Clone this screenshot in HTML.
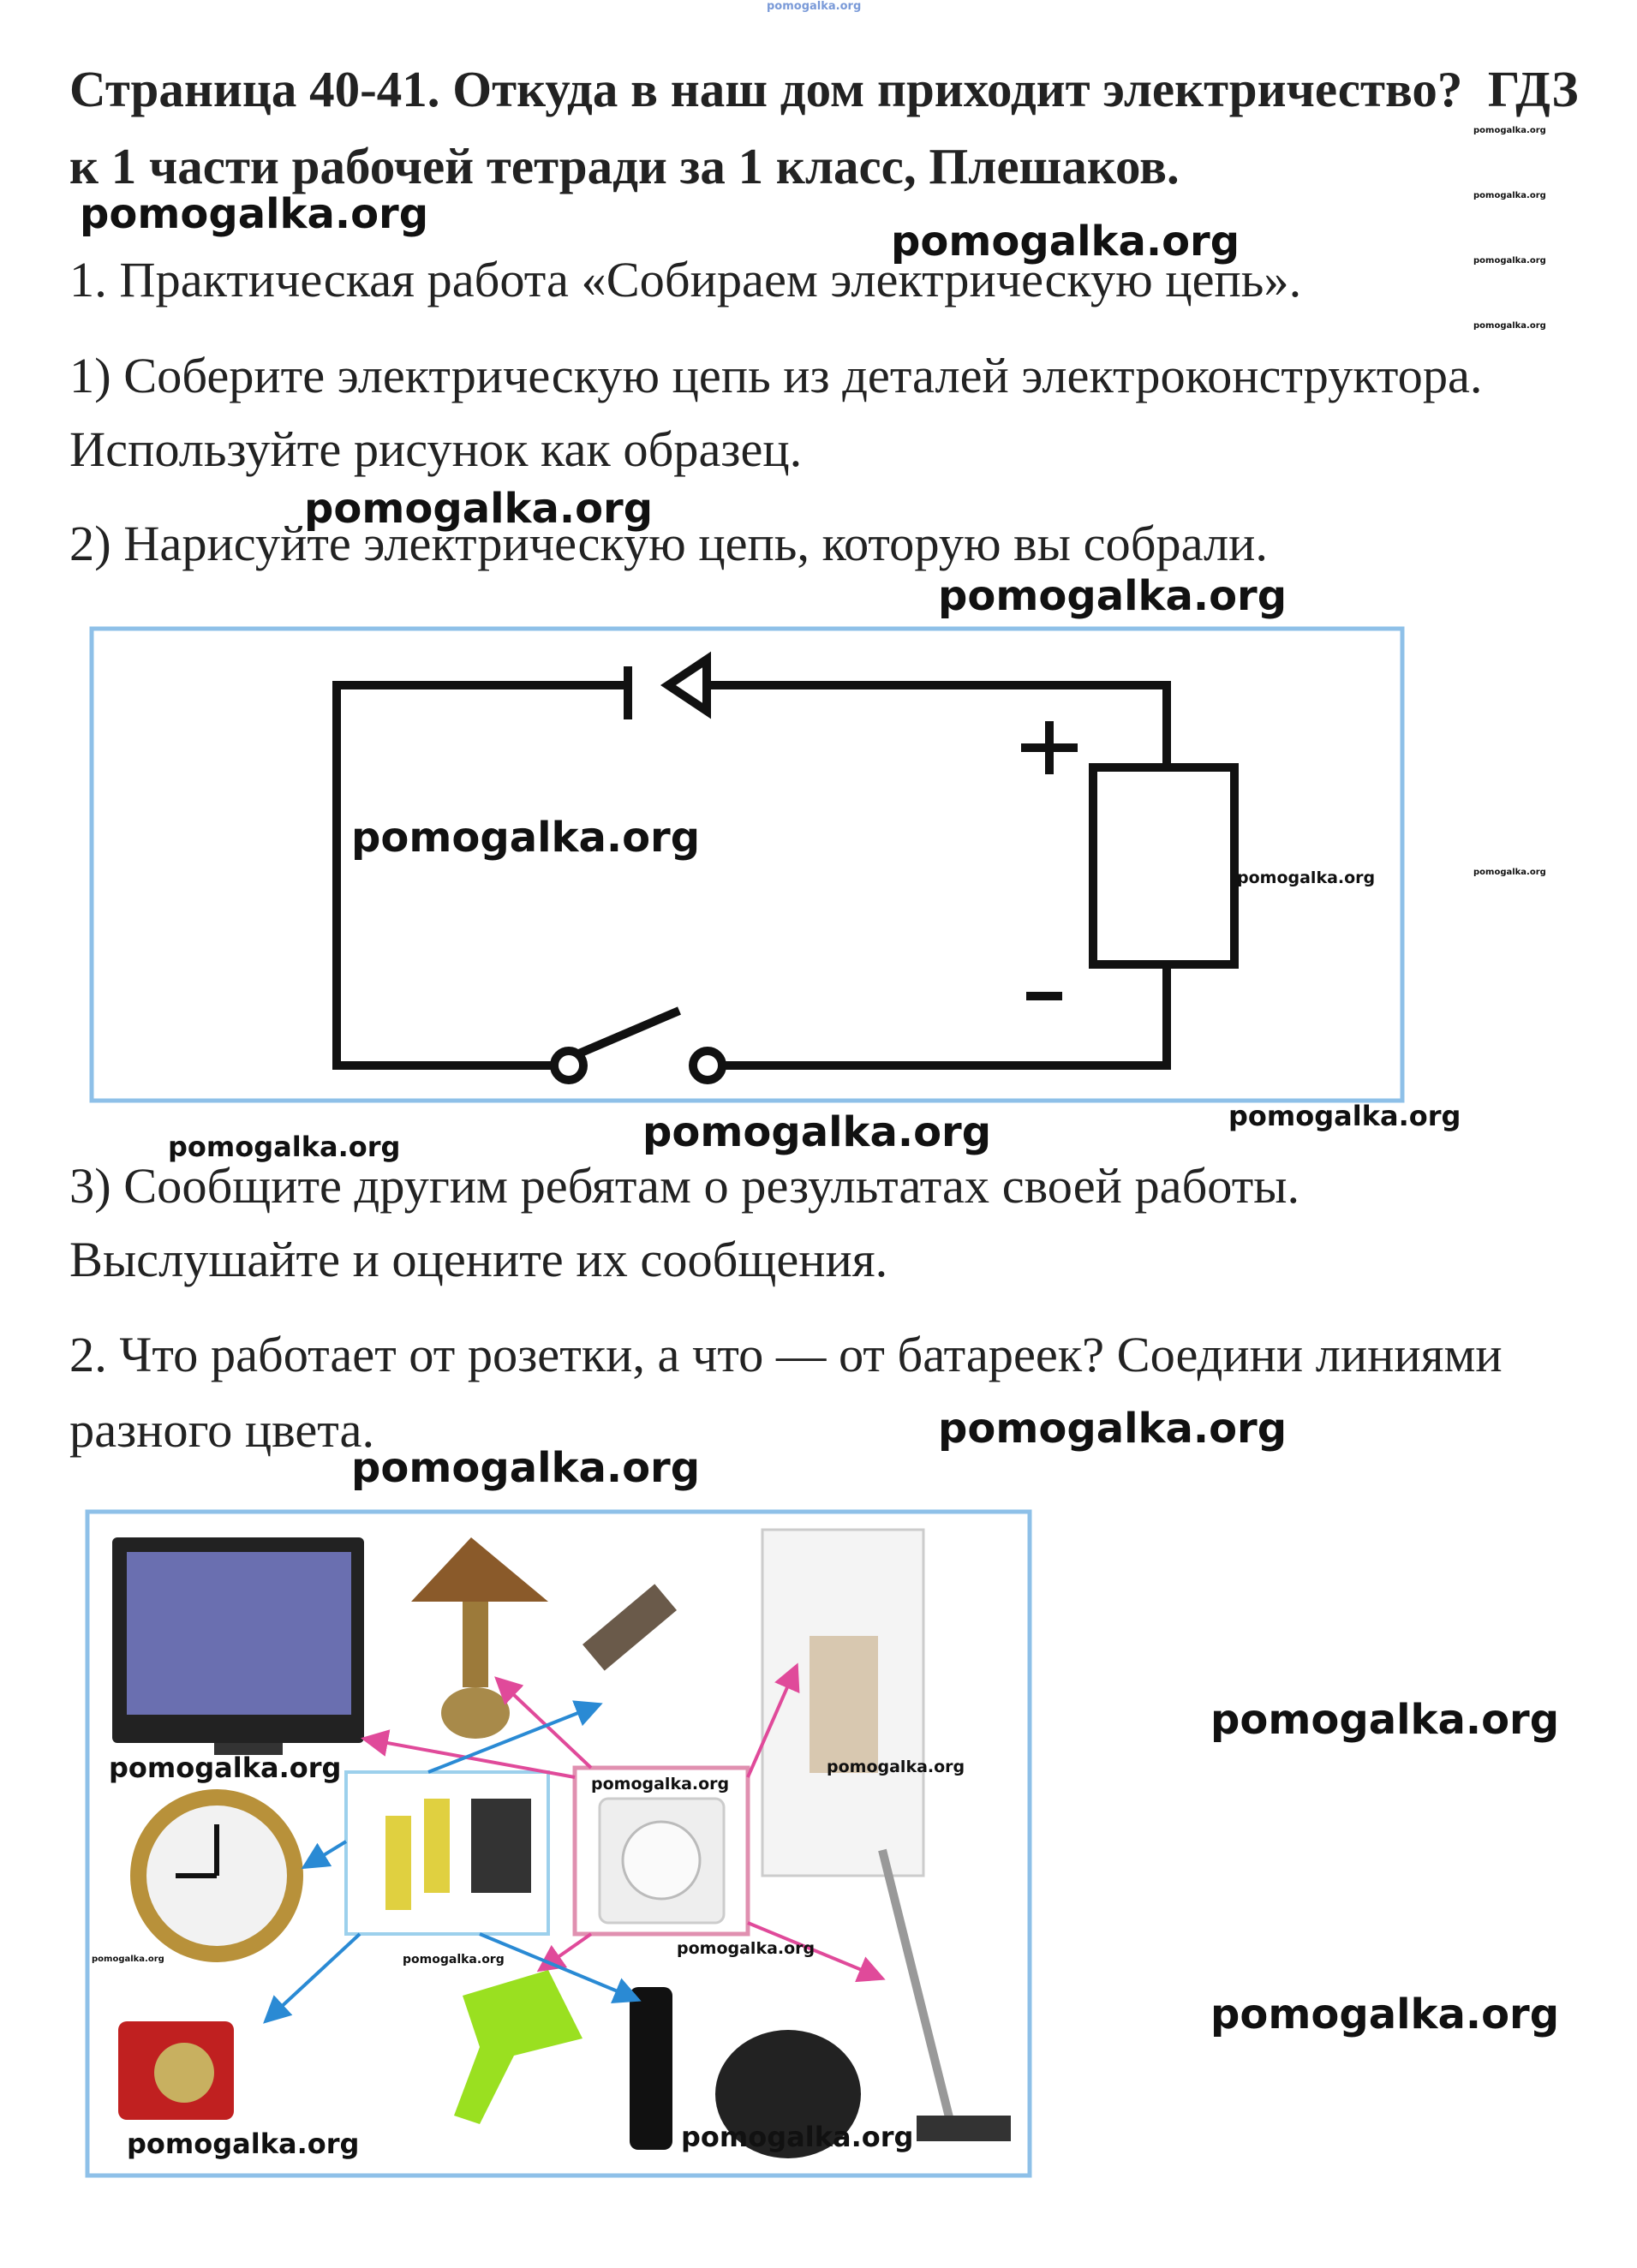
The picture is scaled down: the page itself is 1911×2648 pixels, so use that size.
<!DOCTYPE html>
<html><head><meta charset="utf-8">
<style>
html,body{margin:0;padding:0;background:#fff;}
body{width:1911px;height:2648px;position:relative;overflow:hidden;}
.t{position:absolute;white-space:nowrap;font-family:"Liberation Serif",serif;color:#222;}
.b{font-weight:bold;font-size:59px;}
.r{font-size:58.4px;}
.w{position:absolute;white-space:nowrap;font-family:"DejaVu Sans","Liberation Sans",sans-serif;font-weight:bold;color:#111;}
.wl{font-size:48px;}
.wm{font-size:32px;}
.ws{font-size:19px;}
.wt{font-size:10px;}
</style></head><body>
<div class="w" style="left:895px;top:0px;font-size:13px;color:#7a9ad8;">pomogalka.org</div>
<div class="t b" style="left:81px;top:70px;">Страница 40-41. Откуда в наш дом приходит электричество?&nbsp; ГДЗ</div>
<div class="t b" style="left:81px;top:160px;">к 1 части рабочей тетради за 1 класс, Плешаков.</div>
<div class="w wl" style="left:93px;top:222px;">pomogalka.org</div>
<div class="w wl" style="left:1040px;top:254px;">pomogalka.org</div>
<div class="w wt" style="left:1720px;top:147px;">pomogalka.org</div>
<div class="w wt" style="left:1720px;top:223px;">pomogalka.org</div>
<div class="w wt" style="left:1720px;top:299px;">pomogalka.org</div>
<div class="w wt" style="left:1720px;top:375px;">pomogalka.org</div>
<div class="w wt" style="left:1720px;top:1013px;">pomogalka.org</div>
<div class="t r" style="left:81px;top:293px;">1. Практическая работа «Собираем электрическую цепь».</div>
<div class="t r" style="left:81px;top:405px;">1) Соберите электрическую цепь из деталей электроконструктора.</div>
<div class="t r" style="left:81px;top:491px;">Используйте рисунок как образец.</div>
<div class="w wl" style="left:355px;top:566px;">pomogalka.org</div>
<div class="t r" style="left:81px;top:601px;">2) Нарисуйте электрическую цепь, которую вы собрали.</div>
<div class="w wl" style="left:1095px;top:668px;">pomogalka.org</div>

<svg style="position:absolute;left:0;top:0" width="1911" height="2648">
 <defs>
  <marker id="mp" markerWidth="8" markerHeight="8" refX="7" refY="4" orient="auto" markerUnits="strokeWidth"><path d="M0,0 L8,4 L0,8 z" fill="#e04a9a"/></marker>
  <marker id="mb" markerWidth="8" markerHeight="8" refX="7" refY="4" orient="auto" markerUnits="strokeWidth"><path d="M0,0 L8,4 L0,8 z" fill="#2a8ad4"/></marker>
 </defs>
 <rect x="107" y="734" width="1530" height="551" fill="none" stroke="#8ec0e8" stroke-width="5"/>
 <g stroke="#111" stroke-width="10" fill="none">
  <polyline points="733,800 393,800 393,1244 655,1244"/>
  <line x1="733" y1="778" x2="733" y2="840"/>
  <polygon points="780,800 825,770 825,830"/>
  <polyline points="825,800 1362,800 1362,896"/>
  <rect x="1276" y="896" width="165" height="230"/>
  <polyline points="1362,1126 1362,1244 843,1244"/>
  <circle cx="664" cy="1244" r="17" fill="#fff"/>
  <circle cx="826" cy="1244" r="17" fill="#fff"/>
  <line x1="676" y1="1230" x2="793" y2="1180"/>
  <line x1="1192" y1="873" x2="1258" y2="873"/>
  <line x1="1225" y1="842" x2="1225" y2="904"/>
  <line x1="1198" y1="1163" x2="1240" y2="1163"/>
 </g>
 <rect x="102" y="1765" width="1100" height="775" fill="#fff" stroke="#8ec0e8" stroke-width="5"/>
 <rect x="131" y="1795" width="294" height="240" fill="#222" rx="6"/>
 <rect x="148" y="1812" width="262" height="190" fill="#6a6fb0"/>
 <rect x="250" y="2035" width="80" height="14" fill="#333"/>
 <polygon points="480,1870 550,1795 640,1870" fill="#8a5a2a"/>
 <rect x="540" y="1870" width="30" height="100" fill="#9c7a3a"/>
 <ellipse cx="555" cy="2000" rx="40" ry="30" fill="#a88a4a"/>
 <rect x="680" y="1880" width="110" height="40" fill="#6a5a4a" transform="rotate(-40 735 1900)"/>
 <rect x="890" y="1786" width="188" height="404" fill="#f4f4f4" stroke="#ccc" stroke-width="3"/>
 <rect x="945" y="1910" width="80" height="160" fill="#d8c8b0"/>
 <circle cx="253" cy="2190" r="101" fill="#b8913a"/>
 <circle cx="253" cy="2190" r="82" fill="#f2f2f2"/>
 <line x1="253" y1="2190" x2="253" y2="2130" stroke="#111" stroke-width="6"/>
 <line x1="253" y1="2190" x2="205" y2="2190" stroke="#111" stroke-width="6"/>
 <rect x="404" y="2069" width="236" height="189" fill="#fff" stroke="#9cd0ec" stroke-width="4"/>
 <rect x="450" y="2120" width="30" height="110" fill="#e0d040"/>
 <rect x="495" y="2100" width="30" height="110" fill="#e0d040"/>
 <rect x="550" y="2100" width="70" height="110" fill="#333"/>
 <rect x="671" y="2064" width="202" height="194" fill="#fff" stroke="#e090b0" stroke-width="5"/>
 <rect x="700" y="2100" width="145" height="145" fill="#eee" stroke="#ccc" stroke-width="3" rx="10"/>
 <circle cx="772" cy="2172" r="45" fill="#fafafa" stroke="#bbb" stroke-width="3"/>
 <rect x="138" y="2360" width="135" height="115" fill="#c02020" rx="10"/>
 <circle cx="215" cy="2420" r="35" fill="#c8b060"/>
 <polygon points="540,2330 640,2300 680,2380 600,2400 560,2480 530,2470 560,2390" fill="#9ae020"/>
 <rect x="735" y="2320" width="50" height="190" fill="#111" rx="10"/>
 <ellipse cx="920" cy="2445" rx="85" ry="75" fill="#222"/>
 <line x1="1030" y1="2160" x2="1110" y2="2480" stroke="#999" stroke-width="10"/>
 <rect x="1070" y="2470" width="110" height="30" fill="#333"/>
 <g stroke="#e04a9a" stroke-width="4">
  <line x1="671" y1="2075" x2="425" y2="2030" marker-end="url(#mp)"/>
  <line x1="690" y1="2064" x2="580" y2="1960" marker-end="url(#mp)"/>
  <line x1="873" y1="2075" x2="930" y2="1945" marker-end="url(#mp)"/>
  <line x1="873" y1="2245" x2="1030" y2="2310" marker-end="url(#mp)"/>
  <line x1="690" y1="2258" x2="630" y2="2300" marker-end="url(#mp)"/>
 </g>
 <g stroke="#2a8ad4" stroke-width="4">
  <line x1="500" y1="2069" x2="700" y2="1990" marker-end="url(#mb)"/>
  <line x1="404" y1="2150" x2="355" y2="2180" marker-end="url(#mb)"/>
  <line x1="420" y1="2258" x2="310" y2="2360" marker-end="url(#mb)"/>
  <line x1="560" y1="2258" x2="745" y2="2335" marker-end="url(#mb)"/>
 </g>
</svg>

<div class="w wl" style="left:410px;top:950px;">pomogalka.org</div>
<div class="w ws" style="left:1444px;top:1014px;">pomogalka.org</div>
<div class="w wm" style="left:196px;top:1320px;">pomogalka.org</div>
<div class="w wl" style="left:750px;top:1294px;">pomogalka.org</div>
<div class="w wm" style="left:1434px;top:1284px;">pomogalka.org</div>
<div class="t r" style="left:81px;top:1351px;">3) Сообщите другим ребятам о результатах своей работы.</div>
<div class="t r" style="left:81px;top:1437px;">Выслушайте и оцените их сообщения.</div>
<div class="t r" style="left:81px;top:1548px;">2. Что работает от розетки, а что — от батареек? Соедини линиями</div>
<div class="t r" style="left:81px;top:1636px;">разного цвета.</div>
<div class="w wl" style="left:1095px;top:1640px;">pomogalka.org</div>
<div class="w wl" style="left:410px;top:1686px;">pomogalka.org</div>
<div class="w wm" style="left:127px;top:2045px;">pomogalka.org</div>
<div class="w ws" style="left:690px;top:2072px;">pomogalka.org</div>
<div class="w ws" style="left:965px;top:2052px;">pomogalka.org</div>
<div class="w wt" style="left:107px;top:2282px;">pomogalka.org</div>
<div class="w" style="left:470px;top:2280px;font-size:14px;">pomogalka.org</div>
<div class="w ws" style="left:790px;top:2264px;">pomogalka.org</div>
<div class="w wm" style="left:148px;top:2484px;">pomogalka.org</div>
<div class="w wm" style="left:795px;top:2476px;">pomogalka.org</div>
<div class="w wl" style="left:1413px;top:1980px;">pomogalka.org</div>
<div class="w wl" style="left:1413px;top:2324px;">pomogalka.org</div>
</body></html>
